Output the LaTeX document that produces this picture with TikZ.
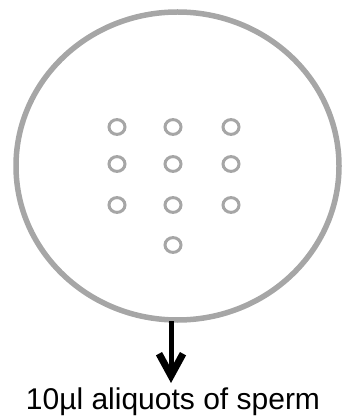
\documentclass[tikz,border=0pt]{standalone}
\usepackage{fontspec}
\setmainfont{Liberation Sans}
\usetikzlibrary{arrows.meta}
\definecolor{ringgray}{RGB}{166,166,166}
\begin{document}
\begin{tikzpicture}[x=1pt,y=-1pt,
  dish/.style={draw=ringgray,line width=5.5pt},
  well/.style={draw=ringgray,line width=3pt},
  flow/.style={line width=5pt,-{Straight Barb[length=22pt,width=24pt,line width=7pt]}},
  caption/.style={font=\fontsize{30}{34}\selectfont,inner sep=0pt,anchor=base}]
\useasboundingbox (0,0) rectangle (342,419);
\draw[dish] (177.5,166) ellipse [x radius=161.5,y radius=154];
\foreach \x/\y [count=\i] in {117/127,173/127,231/127,117/164,173/164,231/164,117/205,173/205,231/205,173/245}
  \draw[well] (\x,\y) ellipse [x radius=8,y radius=7.4];
\coordinate (top) at (171,321);
\coordinate (tip) at (171,383);
\draw[flow] (top) -- (tip);
\node[caption] (lbl) at (173,409) {10µl aliquots of sperm};
\end{tikzpicture}
\end{document}
